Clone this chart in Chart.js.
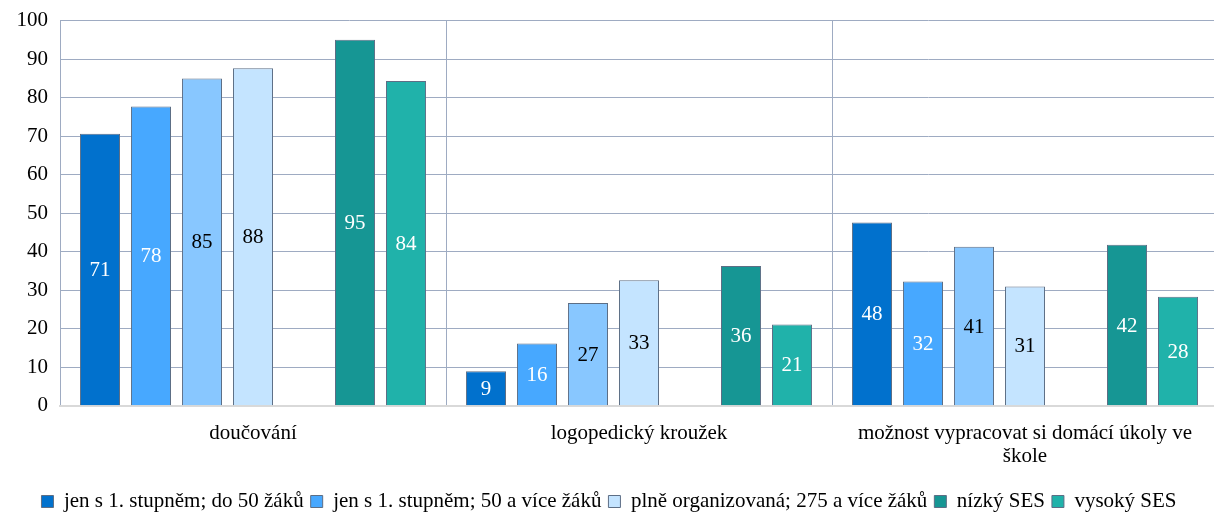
<!DOCTYPE html>
<html>
<head>
<meta charset="utf-8">
<script src="https://cdn.jsdelivr.net/npm/chart.js@4/dist/chart.umd.min.js"></script>
<style>
  html, body { margin: 0; padding: 0; background: #fff; overflow: hidden; }
  #wrap { position: relative; top: -4px; width: 1218px; height: 517px; }
</style>
</head>
<body>
<div id="wrap"><canvas id="chart"></canvas></div>
<script>
// categories and series
const categories = ['doučování', 'logopedický kroužek', ['možnost vypracovat si domácí úkoly ve', 'škole']];
// the third blue series has no entry in the legend of the original, so its name stays empty
const seriesNames = ['jen s 1. stupněm; do 50 žáků', 'jen s 1. stupněm; 50 a více žáků', '', 'plně organizovaná; 275 a více žáků', '', 'nízký SES', 'vysoký SES'];
const small = [70.6, 9.0, 47.6];
const smallMany = [77.7, 16.2, 32.3];
const thirdBlue = [85.0, 26.7, 41.3];
const fullOrg = [87.6, 32.6, 31.0];
const spacer = [null, null, null];
const lowSes = [95.0, 36.3, 41.8];
const highSes = [84.3, 21.1, 28.3];

const seriesValues = [small, smallMany, thirdBlue, fullOrg, spacer, lowSes, highSes];
const fillColors = ['#0171cd', '#47a8ff', '#88c7ff', '#c4e4ff', 'rgba(0,0,0,0)', '#169694', '#20b2aa'];
const labelColors = ['#ffffff', '#ffffff', '#000000', '#000000', '#000000', '#ffffff', '#ffffff'];

const serif = '"Liberation Serif", "Times New Roman", serif';

// draws rounded value in the middle of each bar
const barLabels = {
    id: 'barLabels',
    afterDatasetsDraw(chart) {
        const ctx = chart.ctx;
        ctx.save();
        ctx.font = '21px ' + serif;
        ctx.textAlign = 'center';
        ctx.textBaseline = 'middle';
        chart.data.datasets.forEach((ds, i) => {
            const meta = chart.getDatasetMeta(i);
            ctx.fillStyle = ds.valueColor;
            meta.data.forEach((bar, j) => {
                const v = ds.data[j];
                if (v == null) return;
                ctx.fillText(Math.round(v), bar.x, (bar.y + bar.base) / 2 + 1);
            });
        });
        ctx.restore();
    }
};

const datasets = seriesValues.map((vals, i) => ({
    label: seriesNames[i],
    data: vals,
    backgroundColor: fillColors[i],
    borderColor: vals === spacer ? 'rgba(0,0,0,0)' : '#5d6e85',
    borderWidth: 1,
    valueColor: labelColors[i],
    barPercentage: 0.785,
    categoryPercentage: 0.925
}));

new Chart(document.getElementById('chart'), {
    type: 'bar',
    data: { labels: categories, datasets: datasets },
    options: {
        responsive: true,
        maintainAspectRatio: false,
        animation: false,
        layout: { padding: { top: 0, right: 0, left: 0, bottom: -9 } },
        plugins: {
            tooltip: { enabled: false },
            legend: {
                position: 'bottom',
                labels: {
                    font: { family: serif, size: 21 },
                    color: '#000',
                    boxWidth: 12,
                    boxHeight: 12,
                    padding: 7,
                    filter: item => item.text !== ''
                }
            }
        },
        scales: {
            x: {
                grid: {
                    display: true,
                    offset: true,
                    color: '#9eabc2',
                    drawTicks: false
                },
                border: { color: '#d9d9d9', width: 2 },
                ticks: {
                    font: { family: serif, size: 21, lineHeight: 1.1 },
                    color: '#000',
                    padding: 16,
                    maxRotation: 0,
                    autoSkip: false
                }
            },
            y: {
                min: 0,
                max: 100,
                ticks: {
                    stepSize: 10,
                    font: { family: serif, size: 21 },
                    color: '#000',
                    padding: 12
                },
                grid: { color: '#9eabc2', drawTicks: false },
                border: { display: false },
                afterFit: axis => { axis.width = 60; }
            }
        }
    },
    plugins: [barLabels]
});
</script>
</body>
</html>
